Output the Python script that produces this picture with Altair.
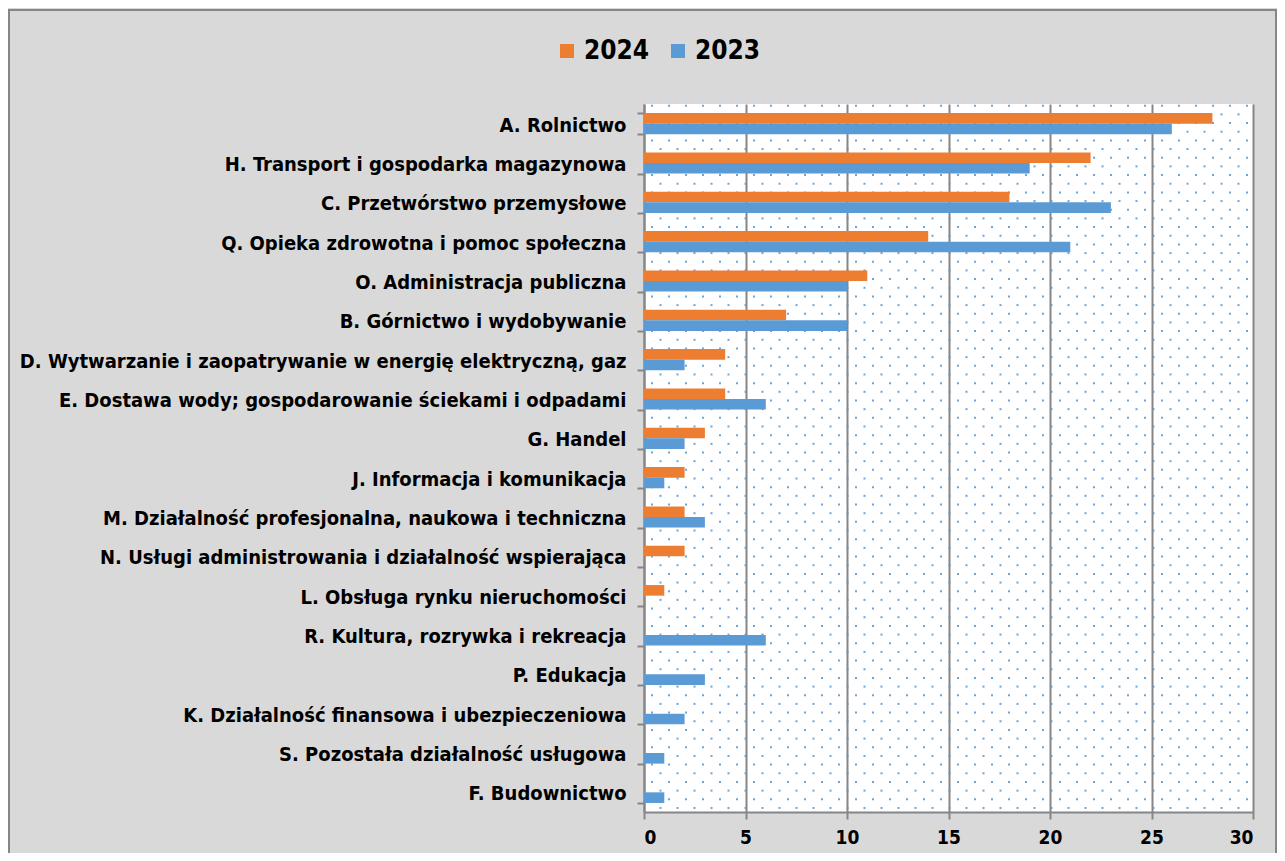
import altair as alt
import numpy as np
import pandas as pd

categories = [
    "A. Rolnictwo",
    "H. Transport i gospodarka magazynowa",
    "C. Przetwórstwo przemysłowe",
    "Q. Opieka zdrowotna i pomoc społeczna",
    "O. Administracja publiczna",
    "B. Górnictwo i wydobywanie",
    "D. Wytwarzanie i zaopatrywanie w energię elektryczną, gaz",
    "E. Dostawa wody; gospodarowanie ściekami i odpadami",
    "G. Handel",
    "J. Informacja i komunikacja",
    "M. Działalność profesjonalna, naukowa i techniczna",
    "N. Usługi administrowania i działalność wspierająca",
    "L. Obsługa rynku nieruchomości",
    "R. Kultura, rozrywka i rekreacja",
    "P. Edukacja",
    "K. Działalność finansowa i ubezpieczeniowa",
    "S. Pozostała działalność usługowa",
    "F. Budownictwo",
]
values_2024 = [28, 22, 18, 14, 11, 7, 4, 4, 3, 2, 2, 2, 1, 0, 0, 0, 0, 0]
values_2023 = [26, 19, 23, 21, 10, 10, 2, 6, 2, 1, 3, 0, 0, 6, 3, 2, 1, 1]
years = ["2024", "2023"]
x_ticks = [0, 5, 10, 15, 20, 25, 30]

W, H = 609, 708
FONT = "DejaVu Sans Condensed, DejaVu Sans"
GRAY = "#868686"

rows = []
for c, a, b in zip(categories, values_2024, values_2023):
    rows.append({"category": c, "year": "2024", "value": a})
    rows.append({"category": c, "year": "2023", "value": b})
df = pd.DataFrame(rows)

# decorative dotted pattern of the plot area (pixel positions)
pts = []
for i, yy in enumerate(np.arange(1.7, H, 8.67)):
    for xx in np.arange(8.0 + (i % 2) * 8.5, W, 17.0):
        pts.append({"px": float(xx), "py": float(yy)})
dots = pd.DataFrame(pts)

dot_layer = alt.Chart(dots).mark_square(size=4, color="#5b9bd5", opacity=0.9).encode(
    x=alt.X("px:Q", scale=None, axis=None),
    y=alt.Y("py:Q", scale=None, axis=None),
)

bars = alt.Chart(df).mark_bar().encode(
    x=alt.X(
        "value:Q",
        scale=alt.Scale(domain=[0, 30], nice=False),
        axis=alt.Axis(
            title=None, values=x_ticks, grid=True, gridColor=GRAY, gridWidth=2,
            domainColor=GRAY, domainWidth=2, tickColor=GRAY, tickWidth=2, tickSize=7,
            labelFont=FONT, labelFontSize=19, labelFontWeight="bold", labelColor="black",
            labelPadding=9,
        ),
    ),
    y=alt.Y(
        "category:N", sort=categories,
        scale=alt.Scale(paddingInner=0.46, paddingOuter=0.23),
        axis=alt.Axis(
            title=None, tickBand="extent", grid=False,
            domainColor=GRAY, domainWidth=2, tickColor=GRAY, tickWidth=2, tickSize=7,
            labelFont=FONT, labelFontSize=20, labelFontWeight="bold", labelColor="black",
            labelPadding=11, labelLimit=800, labelOffset=1.5,
        ),
    ),
    yOffset=alt.YOffset("year:N", sort=years, scale=alt.Scale(paddingInner=0, paddingOuter=0)),
    color=alt.Color(
        "year:N", sort=years,
        scale=alt.Scale(domain=years, range=["#ed7d31", "#5b9bd5"]),
        legend=alt.Legend(
            title=None, orient="none", legendX=-90, legendY=-66, direction="horizontal",
            symbolType="square", symbolSize=196, symbolStrokeWidth=0,
            labelFont=FONT, labelFontSize=26, labelFontWeight="bold", labelColor="black",
            columnPadding=15, labelOffset=4,
        ),
    ),
)

border = alt.Chart(pd.DataFrame({"a": [0]})).mark_rect(
    fillOpacity=0, stroke=GRAY, strokeWidth=2
).encode(
    x=alt.value(-635), x2=alt.value(W + 23), y=alt.value(-94), y2=alt.value(H + 60)
)

chart = alt.layer(dot_layer, bars, border).resolve_scale(
    x="independent", y="independent"
).properties(
    width=W, height=H,
    autosize=alt.AutoSizeParams(type="none"),
    padding={"left": 636, "top": 96, "right": 24, "bottom": 41},
    background="#d9d9d9",
).configure_view(fill="white", stroke=None)

chart.save("out.html", embed_options={"renderer": "svg", "actions": False})
